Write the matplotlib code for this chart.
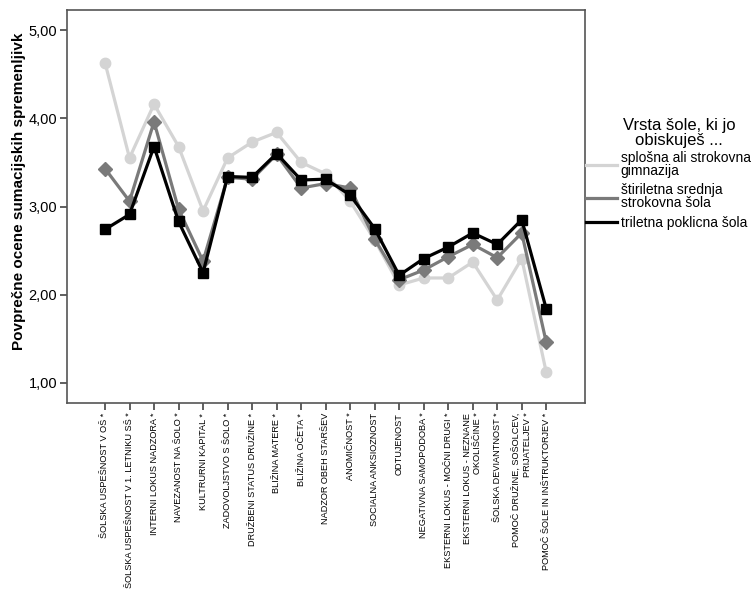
import matplotlib
matplotlib.use("Agg")
import matplotlib.pyplot as plt

plt.rcParams['font.family'] = ['Liberation Sans', 'DejaVu Sans']

categories = [
    "ŠOLSKA USPEŠNOST V OŠ *",
    "ŠOLSKA USPEŠNOST V 1. LETNIKU SŠ *",
    "INTERNI LOKUS NADZORA *",
    "NAVEZANOST NA ŠOLO *",
    "KULTRURNI KAPITAL *",
    "ZADOVOLJSTVO S ŠOLO *",
    "DRUŽBENI STATUS DRUŽINE *",
    "BLIŽINA MATERE *",
    "BLIŽINA OČETA *",
    "NADZOR OBEH STARŠEV",
    "ANOMIČNOST *",
    "SOCIALNA ANKSIOZNOST",
    "ODTUJENOST",
    "NEGATIVNA SAMOPODOBA *",
    "EKSTERNI LOKUS - MOČNI DRUGI *",
    "EKSTERNI LOKUS - NEZNANE\nOKOLIŠČINE *",
    "ŠOLSKA DEVIANTNOST *",
    "POMOČ DRUŽINE, SOŠOLCEV,\nPRIJATELJEV *",
    "POMOČ ŠOLE IN INŠTRUKTORJEV *",
]

gimnazija = [4.63, 3.55, 4.16, 3.68, 2.95, 3.55, 3.73, 3.84, 3.50, 3.37,
             3.06, 2.62, 2.11, 2.19, 2.19, 2.37, 1.94, 2.41, 1.12]
stiriletna = [3.43, 3.06, 3.96, 2.97, 2.38, 3.33, 3.31, 3.59, 3.21, 3.26,
              3.21, 2.63, 2.17, 2.28, 2.43, 2.57, 2.42, 2.70, 1.46]
triletna = [2.74, 2.91, 3.68, 2.83, 2.25, 3.34, 3.33, 3.60, 3.30, 3.31,
            3.13, 2.75, 2.22, 2.41, 2.54, 2.70, 2.57, 2.85, 1.84]

series_names = ["splošna ali strokovna\ngimnazija",
                "štiriletna srednja\nstrokovna šola",
                "triletna poklicna šola"]
legend_title = "Vrsta šole, ki jo\nobiskuješ ..."
y_label = "Povprečne ocene sumacijskih spremenljivk"
y_ticks = [1, 2, 3, 4, 5]
y_ticklabels = ["1,00", "2,00", "3,00", "4,00", "5,00"]

fig = plt.figure(figsize=(7.56, 5.93), dpi=100)
ax = fig.add_axes([67/756, 1-403/593, (585-67)/756, (403-10)/593])

x = list(range(len(categories)))
ax.plot(x, gimnazija, color='#d4d4d4', lw=2.3, marker='o', ms=7.5, zorder=2)
ax.plot(x, stiriletna, color='#7a7a7a', lw=2.3, marker='D', ms=7.5, zorder=3)
ax.plot(x, triletna, color='#000000', lw=2.3, marker='s', ms=7.5, zorder=4)

ax.set_xlim(-1.55, len(categories) - 1 + 1.58)
ax.set_ylim(0.773, 5.227)
ax.set_yticks(y_ticks)
ax.set_yticklabels(y_ticklabels, fontsize=10.5)
ax.set_xticks(x)
ax.set_xticklabels(categories, rotation=90, fontsize=6.6, va='top', ha='center',
                   multialignment='right')
ax.tick_params(axis='both', direction='out', length=5, width=1.2, color='#444444')
ax.tick_params(axis='y', pad=2)
ax.tick_params(axis='x', pad=2)
for s in ax.spines.values():
    s.set_color('#555555')
    s.set_linewidth(1.2)
ax.set_ylabel(y_label, fontsize=11, fontweight='bold')
ax.yaxis.set_label_coords(-0.08, 0.54)

fig.text(679/756, 1-133/593, legend_title, ha='center', va='center',
         fontsize=12, linespacing=0.95, multialignment='center')

h1 = matplotlib.lines.Line2D([], [], color='#d4d4d4', lw=2.3)
h2 = matplotlib.lines.Line2D([], [], color='#7a7a7a', lw=2.3)
h3 = matplotlib.lines.Line2D([], [], color='#000000', lw=2.3)
leg = fig.legend([h1, h2, h3], series_names,
                 loc='upper left', bbox_to_anchor=(586/756, 1-151/593),
                 frameon=False, fontsize=10,
                 handlelength=2.2, handletextpad=0.3, borderaxespad=0,
                 borderpad=0, labelspacing=0.4)
for t in leg.get_texts():
    t.set_linespacing(0.9)

fig.savefig("out.png", dpi=100)
